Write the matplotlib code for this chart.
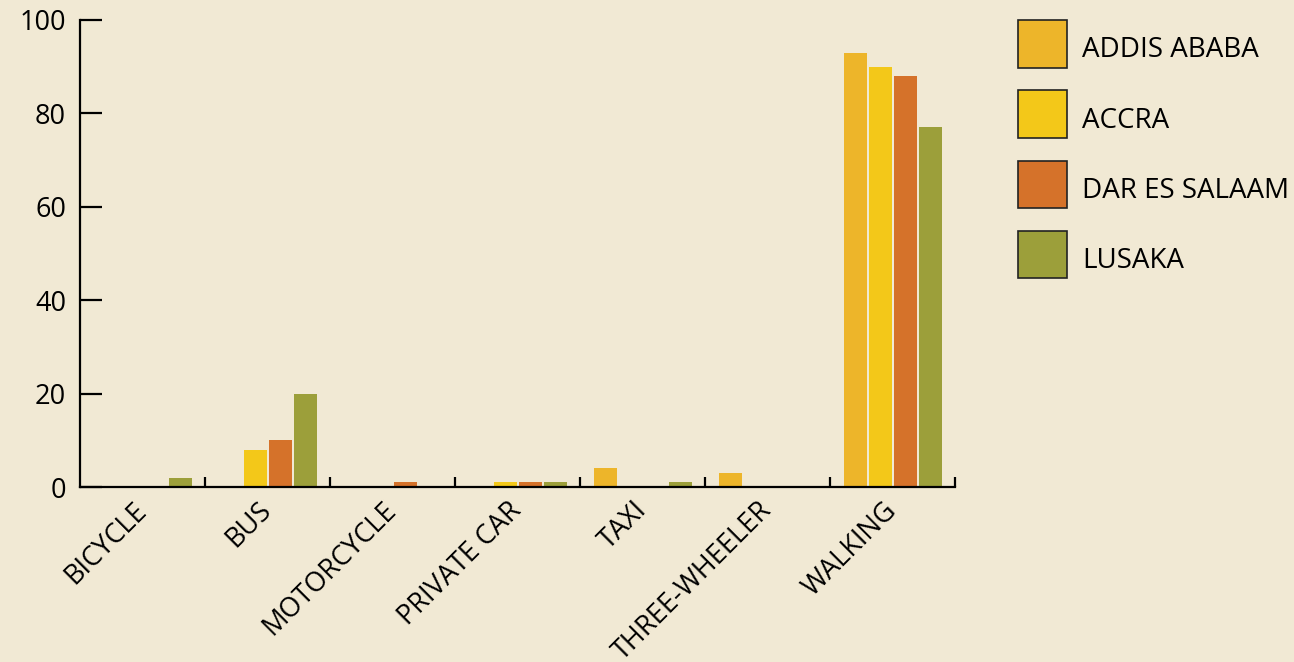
import matplotlib.pyplot as plt
import matplotlib.transforms as mtransforms
import numpy as np

categories = ["BICYCLE", "BUS", "MOTORCYCLE", "PRIVATE CAR", "TAXI", "THREE-WHEELER", "WALKING"]
cities = ["ADDIS ABABA", "ACCRA", "DAR ES SALAAM", "LUSAKA"]
addis = [0, 0, 0, 0, 4, 3, 93]
accra = [0, 8, 0, 1, 0, 0, 90]
dar = [0, 10, 1, 1, 0, 0, 88]
lusaka = [2, 20, 0, 1, 1, 0, 77]
colors = ["#EDB52A", "#F3C819", "#D5722A", "#9C9F3A"]

bg = "#F1E9D4"
plt.rcParams['font.family'] = ['Open Sans', 'DejaVu Sans']

fig = plt.figure(figsize=(12.94, 6.62), dpi=100, facecolor=bg)
ax = fig.add_axes([80/1294, 1 - 487/662, 875/1294, 467/662])
ax.set_facecolor(bg)

x = np.arange(len(categories))
step = 0.2
width = 0.184
for i, (vals, name) in enumerate(zip([addis, accra, dar, lusaka], cities)):
    ax.bar(x + (i - 1.5) * step, vals, width, color=colors[i], label=name, zorder=2)

ax.set_xlim(-0.5, 6.5)
ax.set_ylim(0, 100)
ax.set_yticks([0, 20, 40, 60, 80, 100])
ax.set_xticks(x)
ax.set_xticklabels(categories, rotation=45, ha='right', va='center', rotation_mode='anchor')
ax.set_xticks(np.arange(0.5, 7, 1), minor=True)

ax.tick_params(axis='y', direction='in', length=16, width=1.6, labelsize=19.5, pad=10, colors='black')
ax.tick_params(axis='x', which='major', length=0, labelsize=19.5, pad=14)
ax.tick_params(axis='x', which='minor', direction='in', length=7, width=1.6)

for s in ['top', 'right']:
    ax.spines[s].set_visible(False)
for s in ['left', 'bottom']:
    ax.spines[s].set_linewidth(1.6)
    ax.spines[s].set_zorder(3)

handles, labels = ax.get_legend_handles_labels()
leg = fig.legend(handles, labels, loc='upper left', bbox_to_anchor=(1007/1294, 1 - 9/662),
                 frameon=False, fontsize=20, handlelength=1.75, handleheight=2.25,
                 labelspacing=0.82, handletextpad=0.55, borderaxespad=0)
for p in leg.get_patches():
    p.set_edgecolor('#222222')
    p.set_linewidth(1.2)
# nudge legend labels down a bit
shift = mtransforms.ScaledTranslation(0, -5/100, fig.dpi_scale_trans)
for t in leg.get_texts():
    t.set_transform(t.get_transform() + shift)

fig.savefig("out.png", dpi=100, facecolor=bg)
